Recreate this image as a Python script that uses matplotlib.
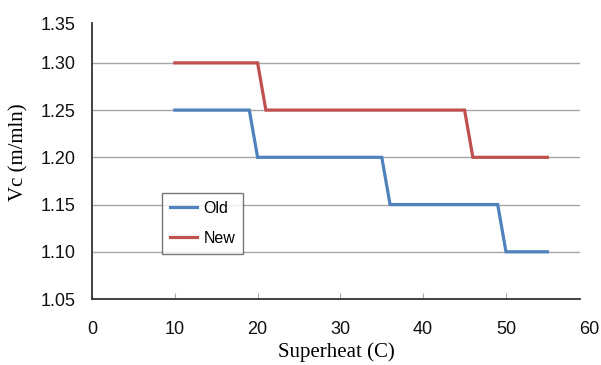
import matplotlib
matplotlib.use("Agg")
import matplotlib.pyplot as plt
import matplotlib.transforms as mtransforms

old_x = [10, 19, 20, 35, 36, 49, 50, 55]
old_y = [1.25, 1.25, 1.20, 1.20, 1.15, 1.15, 1.10, 1.10]
new_x = [10, 20, 21, 45, 46, 55]
new_y = [1.30, 1.30, 1.25, 1.25, 1.20, 1.20]
x_ticks = [0, 10, 20, 30, 40, 50]
y_ticks = [1.05, 1.10, 1.15, 1.20, 1.25, 1.30]
x_last_tick = 60
y_last_tick = 1.35

fig = plt.figure(figsize=(6.01, 3.65), dpi=100)
ax = fig.add_axes([92/601, 1-299/365, 488/601, 276/365])

ax.plot(old_x, old_y, color="#4F81BD", lw=2.3, label="Old", solid_joinstyle="miter")
ax.plot(new_x, new_y, color="#C0504D", lw=2.3, label="New", solid_joinstyle="miter")

ax.set_xlim(0, 58.94)
ax.set_ylim(1.05, 1.3422)
ax.set_xticks(x_ticks)
ax.set_yticks(y_ticks)
ax.set_yticklabels([f"{v:.2f}" for v in y_ticks])

for s in ["top", "right"]:
    ax.spines[s].set_visible(False)
for s in ["left", "bottom"]:
    ax.spines[s].set_color("#333333")
    ax.spines[s].set_linewidth(1.3)

ax.grid(axis="y", color="#A6A6A6", lw=1.0)
ax.set_axisbelow(True)

tickfont = dict(family=["Liberation Sans", "DejaVu Sans"], size=13)
ax.tick_params(axis="x", direction="in", length=4, color="#A6A6A6", pad=16)
ax.tick_params(axis="y", length=0, pad=12)
for lab in ax.get_xticklabels() + ax.get_yticklabels():
    lab.set_fontfamily(tickfont["family"])
    lab.set_fontsize(tickfont["size"])
    lab.set_color("#111111")

# extra end labels drawn as in the reference (clipped axis ends)
trans_x = mtransforms.blended_transform_factory(ax.transData, ax.transAxes)
ax.text(x_last_tick, -0.0797, str(x_last_tick), transform=trans_x, ha="center", va="top",
        color="#111111", clip_on=False, **tickfont)
ax.text(-17/488, (299-25)/276, f"{y_last_tick:.2f}", transform=ax.transAxes, ha="right", va="center",
        color="#111111", clip_on=False, **tickfont)

serif = ["Liberation Serif", "DejaVu Serif"]
ax.set_xlabel("Superheat (C)", family=serif, fontsize=15)
ax.xaxis.set_label_coords(0.5, (299-352)/276)
ax.xaxis.label.set_va("center")
ax.set_ylabel("Vc (m/mln)", family=serif, fontsize=15)
ax.yaxis.set_label_coords((19-92)/488, (299-152)/276)
ax.yaxis.label.set_va("center")

leg = ax.legend(loc="lower left", bbox_to_anchor=((162-92)/488, (299-254)/276),
                prop=dict(family=["Liberation Sans", "DejaVu Sans"], size=11.5),
                frameon=True, fancybox=False, handlelength=1.7, borderpad=0.5,
                labelspacing=0.95, handletextpad=0.4, borderaxespad=0)
leg.get_frame().set_edgecolor("#555555")
leg.get_frame().set_linewidth(1.0)

fig.savefig("out.png", dpi=100)
